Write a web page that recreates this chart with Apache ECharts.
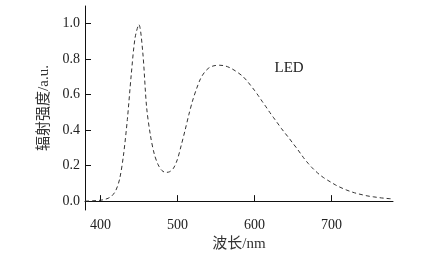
<!DOCTYPE html>
<html>
<head>
<meta charset="utf-8">
<script src="https://cdn.jsdelivr.net/npm/echarts@6/dist/echarts.min.js"></script>
<style>html,body{margin:0;padding:0;background:#fff;}#c{width:442px;height:264px;}</style>
</head>
<body>
<div id="c"></div>
<script>
const wavelengths = [380,385,390,395,400,405,410,415,420,425,430,435,440,445,450,455,460,465,470,475,480,485,490,495,500,505,510,515,520,525,530,535,540,545,550,555,560,565,570,575,580,585,590,595,600,605,610,615,620,625,630,635,640,645,650,655,660,665,670,675,680,685,690,695,700,705,710,715,720,725,730,735,740,745,750,755,760,765,770,775,780];
const intensity = [0.000,0.001,0.002,0.003,0.005,0.009,0.016,0.030,0.060,0.125,0.260,0.460,0.710,0.920,0.995,0.840,0.530,0.370,0.265,0.205,0.172,0.162,0.166,0.186,0.235,0.315,0.400,0.490,0.570,0.635,0.690,0.725,0.748,0.760,0.765,0.766,0.764,0.758,0.748,0.735,0.720,0.703,0.680,0.653,0.625,0.595,0.563,0.532,0.500,0.470,0.440,0.410,0.382,0.355,0.326,0.298,0.268,0.238,0.212,0.188,0.167,0.148,0.132,0.118,0.105,0.092,0.081,0.071,0.062,0.054,0.047,0.041,0.036,0.031,0.027,0.024,0.021,0.018,0.016,0.014,0.013];
const xTicks = [400,500,600,700];
const yTicks = [0,0.2,0.4,0.6,0.8,1.0];
const seriesLabel = 'LED';
const labelAt = [645, 0.75];
const xName = '波长/nm';
const yName = '辐射强度/a.u.';

const font = '"Liberation Serif", "Noto Sans CJK SC", serif';
const chart = echarts.init(document.getElementById('c'), null, {renderer:'canvas'});
chart.setOption({
  animation:false,
  backgroundColor:'#fff',
  grid:{left:85,right:49,top:6,bottom:54},
  xAxis:{
    type:'value', min:380, max:780,
    name:xName, nameLocation:'middle', nameGap:27,
    nameTextStyle:{fontFamily:font,fontSize:15,color:'#333'},
    axisLine:{show:true,lineStyle:{color:'#111',width:1}},
    axisTick:{show:true,inside:true,length:6,customValues:xTicks,lineStyle:{color:'#111'}},
    axisLabel:{customValues:xTicks,fontFamily:font,fontSize:14,color:'#222',margin:8},
    splitLine:{show:false}
  },
  yAxis:{
    type:'value', min:-0.05, max:1.1,
    name:yName, nameLocation:'middle', nameGap:28,
    nameTextStyle:{fontFamily:font,fontSize:15,color:'#333'},
    axisLine:{show:true,lineStyle:{color:'#111',width:1}},
    axisTick:{show:true,inside:true,length:6,customValues:yTicks,lineStyle:{color:'#111'}},
    axisLabel:{customValues:yTicks,fontFamily:font,fontSize:14,color:'#222',margin:5,
      formatter:v=>Number(v).toFixed(1)},
    splitLine:{show:false}
  },
  series:[{
    type:'line',
    data:wavelengths.map((w,i)=>[w,intensity[i]]),
    smooth:0.3,
    showSymbol:false,
    lineStyle:{color:'#333',width:1,type:[4,3]},
    markPoint:{
      symbol:'circle',
      symbolSize:2,
      itemStyle:{color:'rgba(0,0,0,0)'},
      data:[{coord:labelAt, value:seriesLabel}],
      label:{show:true,position:'inside',formatter:seriesLabel,fontFamily:font,fontSize:15,color:'#222'}
    }
  }]
});
</script>
</body>
</html>
